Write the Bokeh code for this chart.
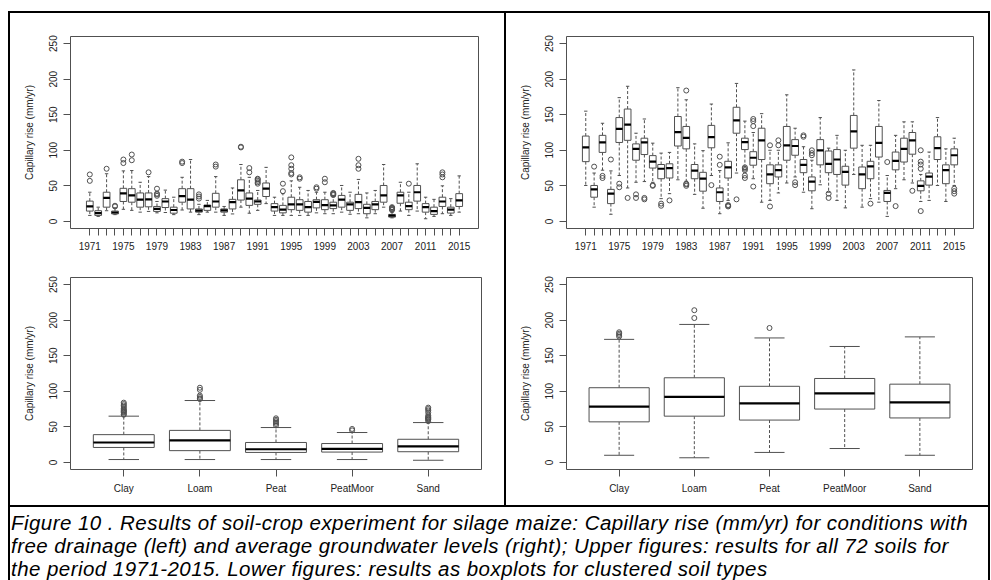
from bokeh.plotting import figure
from bokeh.layouts import row, column
from bokeh.models import Div, Spacer, Range1d, FixedTicker, ColumnDataSource
from bokeh.embed import file_html
from bokeh.resources import INLINE

# ---------------- data ----------------
years = list(range(1971, 2016))
year_labels = ["1971", "1975", "1979", "1983", "1987", "1991", "1995", "1999",
               "2003", "2007", "2011", "2015"]
soil_types = ["Clay", "Loam", "Peat", "PeatMoor", "Sand"]
y_ticks = [0, 50, 100, 150, 200, 250]
y_label = "Capillary rise (mm/yr)"

# Free drainage, per year (top-left)
fd_low = [8.4, 7, 15, 9.5, 17, 15.5, 13, 14, 12, 12.5, 9.5, 16, 13, 9.5, 13, 13, 8.4, 10.5, 20, 11.5,
          15.5, 25, 8.4, 8.4, 8.4, 8.4, 8.4, 12, 10.8, 10.8, 13, 10, 10.8, 5, 10.8, 20, 5, 14.5, 8.4, 14.5,
          3.7, 7, 10.8, 8.4, 13]
fd_q1 = [14.5, 8.4, 20, 10.5, 28, 27, 20, 20.5, 14, 19.5, 11.5, 27, 17.5, 13, 15.5, 20, 13, 17.5, 30, 22.5,
         24, 35, 14.5, 12, 16.5, 15.5, 13, 19, 16.5, 18, 20, 15.5, 18, 10.8, 16.5, 27, 6, 25.5, 16.5, 28.5,
         13, 9.8, 21, 11.7, 21]
fd_med = [21, 11.5, 33, 12.5, 39.5, 36.5, 30.5, 31, 17.5, 28, 16, 35.5, 30.5, 15, 21.5, 28, 15.5, 27, 43.5, 32,
          28, 46, 20, 16.5, 24, 24, 20, 27.5, 23, 22.5, 30.5, 24, 27, 19, 24, 36.5, 8, 36.5, 21.5, 41,
          20, 14.5, 28, 16.5, 29.5]
fd_q3 = [28.5, 15, 41, 14.5, 46.5, 46, 40, 40, 21, 32, 20, 46, 46, 17.5, 23, 39.5, 17.5, 31, 58.5, 40,
         30, 54, 25, 22.5, 34, 30.5, 28, 30.5, 30.5, 27, 36.5, 27, 38, 24, 28, 50.5, 9.8, 41, 27, 50.5,
         25, 20, 34, 20, 39]
fd_high = [41, 20, 67, 19, 71, 71.5, 55, 63, 28, 44, 34, 62, 87, 24, 29.5, 63, 21, 47, 80, 62,
           43.5, 76, 34, 39, 57, 48, 43.5, 41, 41, 36, 50.5, 41, 59, 40, 43.5, 80, 13, 55, 41, 81,
           34, 31, 50, 32, 64]
fd_out = [[57, 66], [], [74], [21, 22], [82, 87], [86, 94], [], [69], [36, 38, 39, 46], [],
          [], [82, 84], [], [32, 35, 38], [], [77, 80], [], [], [104, 105], [69, 75],
          [53, 55, 57, 59, 60], [], [], [42.5, 53], [66, 68, 74, 79, 90], [60, 62], [], [46, 48], [55, 60], [37, 38, 39, 40],
          [], [], [74, 79, 88], [], [], [], [16, 17, 18, 19, 20], [], [53], [],
          [], [], [62, 66, 69], [], []]

# Average groundwater levels, per year (top-right)
gw_low = [50.5, 20, 72, 10, 64.5, 47, 55, 56, 55, 32, 39, 58.5, 56.5, 38, 18.5, 64.5, 10.8, 29.5, 68, 72.5,
          60, 27, 29.5, 40, 54, 62.5, 41, 17.8, 51.5, 41, 29.5, 19, 66, 20, 32, 27, 7, 46, 58.5, 54,
          28, 29.5, 50.5, 28, 50.5]
gw_q1 = [84, 34, 97, 25, 111, 114, 86, 94, 75, 60, 61, 106, 102, 60, 42.5, 103.5, 28, 61, 124, 101,
         79, 87, 53, 62.5, 86, 93, 68.5, 43, 79.5, 68.5, 66, 51, 103, 46, 60, 90.5, 28, 72.5, 83.5, 94.5,
         43, 51, 87, 53, 79.5]
gw_med = [104, 45, 111, 39, 130, 136, 102, 111, 84, 74, 75, 125.5, 117.5, 71.5, 60, 118.5, 41, 76, 142, 111.5,
          89.5, 114, 66, 72, 107, 106, 79.5, 56, 100, 81, 87, 69.5, 126.5, 66, 77.5, 110.5, 40, 85, 102, 114,
          50, 63, 103, 72, 93]
gw_q3 = [120, 50.5, 121, 45, 146, 158, 109, 117, 92.5, 80, 81, 147.5, 133.5, 80, 69, 135, 47, 84.5, 160.5, 117,
         98, 131, 79.5, 79.5, 133.5, 115, 87, 62.5, 115, 99, 101, 77.5, 149, 76.5, 84.5, 133.5, 43.5, 97.5, 117, 125,
         57, 68, 119, 79.5, 102]
gw_high = [155, 68, 138, 71, 174, 190, 124, 144, 110, 96, 97, 188, 171, 109, 99.5, 165, 71.5, 110.5, 194, 141,
           125, 151.5, 100, 100, 178, 131, 105, 86, 146, 103, 121, 100, 213, 107, 107, 170, 64.5, 121, 140, 140,
           66, 97.5, 146, 102, 117]
gw_out = [[], [77], [61, 64], [87], [48, 53], [33], [33, 38], [31, 33], [50, 51], [22, 25],
          [29.5], [], [184, 50, 52, 53], [], [], [51], [79.5, 91], [21, 22, 23], [31], [61, 64.5, 72, 74, 76],
          [134, 141, 144, 49], [], [107, 21], [107, 114], [], [51, 55], [119, 121], [93, 96, 100], [], [33, 39],
          [], [], [], [], [25], [], [83.5], [21.5], [], [43],
          [74, 80, 84, 100, 14.5], [], [], [], [39, 42.5, 46]]

# Clustered soil types, free drainage (bottom-left)
sfd_low = [4, 4, 4, 4, 3]
sfd_q1 = [21, 16.5, 14, 14.5, 15]
sfd_med = [28, 31, 18.5, 19, 22.5]
sfd_q3 = [39, 45, 28, 26.5, 32.5]
sfd_high = [65, 87, 49, 42, 56]
sfd_out = [[67, 68, 70, 71, 72, 73, 74, 76, 78, 80, 82, 84],
           [89, 90, 92, 94, 102, 105],
           [52, 54, 56, 58, 60, 62],
           [45, 47],
           [58, 60, 61, 62, 63, 64, 66, 70, 73, 75, 77]]

# Clustered soil types, average groundwater (bottom-right)
sgw_low = [10, 6.5, 14, 19.5, 10]
sgw_q1 = [57, 65, 59.5, 75, 62.5]
sgw_med = [78.5, 92, 83, 97, 84.5]
sgw_q3 = [105, 119, 107, 118, 110]
sgw_high = [173, 194, 175, 163, 176.5]
sgw_out = [[177, 179, 181, 183], [203, 214], [189], [], []]

caption_lines = [
    "Figure 10 . Results of soil-crop experiment for silage maize: Capillary rise (mm/yr) for conditions with",
    "free drainage (left) and average groundwater levels (right); Upper figures: results for all 72 soils for",
    "the period 1971-2015. Lower figures: results as boxplots for clustered soil types",
]

# ---------------- styling ----------------
FONT = "Liberation Sans"
GREY = "#505050"
BOXW = 0.8
Z = (0, 0, 0, 0)


def panel(cats, shown, lo, q1, med, q3, hi, outl, xr, fw, fh, bl, br, bt, bb):
    n = len(cats)
    xs = list(range(1, n + 1))
    p = figure(frame_width=fw, frame_height=fh, x_range=Range1d(*xr), y_range=Range1d(-10, 260),
               min_border_left=bl, min_border_right=br, min_border_top=bt, min_border_bottom=bb,
               output_backend="svg", toolbar_location=None, tools="", margin=Z)
    p.xgrid.visible = False
    p.ygrid.visible = False
    p.outline_line_color = GREY
    p.outline_line_width = 1
    p.background_fill_color = "white"
    p.border_fill_color = "white"

    src = ColumnDataSource(dict(
        x=xs, lo=lo, q1=q1, med=med, q3=q3, hi=hi,
        xl=[x - BOXW / 2 for x in xs], xr=[x + BOXW / 2 for x in xs],
        cl=[x - BOXW / 4 for x in xs], cr=[x + BOXW / 4 for x in xs]))
    p.segment(x0="x", y0="q3", x1="x", y1="hi", source=src, line_color=GREY, line_dash="3 2", line_width=1)
    p.segment(x0="x", y0="q1", x1="x", y1="lo", source=src, line_color=GREY, line_dash="3 2", line_width=1)
    p.segment(x0="cl", y0="hi", x1="cr", y1="hi", source=src, line_color=GREY, line_width=1)
    p.segment(x0="cl", y0="lo", x1="cr", y1="lo", source=src, line_color=GREY, line_width=1)
    p.vbar(x="x", width=BOXW, bottom="q1", top="q3", source=src, fill_color="white", line_color=GREY, line_width=1)
    p.segment(x0="xl", y0="med", x1="xr", y1="med", source=src, line_color="black", line_width=2.2)

    ox, oy = [], []
    for x, vals in zip(xs, outl):
        for v in vals:
            ox.append(x)
            oy.append(v)
    p.scatter(ox, oy, marker="circle", size=5, fill_color=None, line_color=GREY, line_width=1)

    xa = p.xaxis[0]
    xa.ticker = FixedTicker(ticks=xs)
    xa.major_label_overrides = {x: (str(c) if str(c) in shown else "") for x, c in zip(xs, cats)}
    xa.bounds = (1, n)
    ya = p.yaxis[0]
    ya.ticker = FixedTicker(ticks=y_ticks)
    ya.bounds = (y_ticks[0], y_ticks[-1])
    ya.major_label_orientation = "vertical"
    ya.axis_label = y_label
    ya.axis_label_standoff = 12
    for ax in (xa, ya):
        ax.axis_line_color = GREY
        ax.major_tick_line_color = GREY
        ax.major_tick_out = 7
        ax.major_tick_in = 0
        ax.minor_tick_out = 0
        ax.minor_tick_in = 0
        ax.major_label_text_font = FONT
        ax.major_label_text_font_size = "10px"
        ax.major_label_text_color = "#222222"
        ax.axis_label_text_font = FONT
        ax.axis_label_text_font_size = "10px"
        ax.axis_label_text_font_style = "normal"
        ax.axis_label_text_color = "#222222"
    xa.major_label_standoff = 6
    ya.major_label_standoff = 6
    return p


p_tl = panel(years, year_labels, fd_low, fd_q1, fd_med, fd_q3, fd_high, fd_out,
             (-1.3, 47.3), 408, 192, 60, 26, 23, 27)
p_tr = panel(years, year_labels, gw_low, gw_q1, gw_med, gw_q3, gw_high, gw_out,
             (-1.3, 47.3), 407, 192, 60, 15, 23, 27)
p_bl = panel(soil_types, soil_types, sfd_low, sfd_q1, sfd_med, sfd_q3, sfd_high, sfd_out,
             (0.3, 5.7), 411, 192, 59, 24, 22, 36)
p_br = panel(soil_types, soil_types, sgw_low, sgw_q1, sgw_med, sgw_q3, sgw_high, sgw_out,
             (0.3, 5.7), 406, 192, 60, 16, 22, 36)


def line(w, h):
    return Div(text="", width=w, height=h, margin=Z, styles={"background-color": "black"})


caption_html = ('<div style="font-family:\'Liberation Sans\',Arial,sans-serif;font-style:italic;'
                'font-size:20.5px;line-height:23px;letter-spacing:0.45px;padding-top:4px;padding-left:1px;'
                'white-space:nowrap;color:#000">'
                + "<br>".join(caption_lines) + "</div>")
caption = Div(text=caption_html, width=978, height=73, margin=Z)

left_col = column(p_tl, p_bl, spacing=0, margin=Z)
right_col = column(p_tr, p_br, spacing=0, margin=Z)
main_row = row(line(2, 492), left_col, line(2, 492), right_col, line(2, 492), spacing=0, margin=Z)
cap_row = row(line(2, 73), caption, line(2, 73), spacing=0, margin=Z)
framed = column(Spacer(width=982, height=11, margin=Z), line(982, 2), main_row,
                line(982, 2), cap_row, spacing=0, margin=Z)
layout = row(Spacer(width=8, height=580, margin=Z), framed, spacing=0, margin=Z)

open("out.html", "w").write(file_html(layout, INLINE))
